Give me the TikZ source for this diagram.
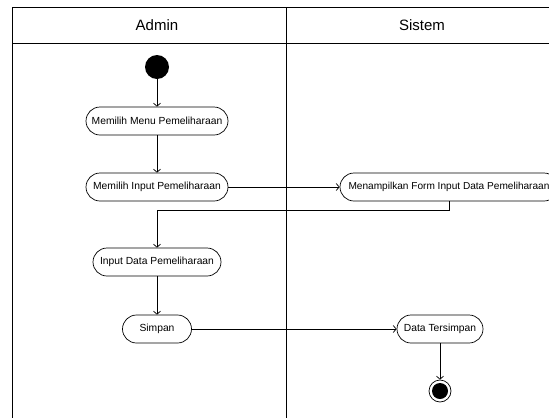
\documentclass[tikz,border=0pt]{standalone}
\usepackage{fontspec}
\setmainfont{Liberation Sans}
\usetikzlibrary{arrows.meta}
\begin{document}
\begin{tikzpicture}[x=1pt, y=-1pt, line width=0.7pt,
	act/.style={draw, rounded corners=14pt, minimum height=28pt, inner sep=2pt, font=\fontsize{10.3}{11}\selectfont},
	flow/.style={-{Straight Barb[length=3pt, width=7pt]}},
	lane/.style={font=\fontsize{15}{16}\selectfont}]
	\useasboundingbox (0,0) rectangle (549,418);
	% partisi
	\draw (549,7) -- (12,7) -- (12,418);
	\draw (12,43) -- (549,43);
	\draw (286,7) -- (286,418);
	\node [lane] (admin) at (157,25) {Admin};
	\node [lane] (sistem) at (422,25) {Sistem};
	% aktivitas
	\node [circle, fill, inner sep=0, minimum size=24pt] (start) at (157,67) {};
	\node [act, minimum width=142pt] (menu) at (157,121) {Memilih Menu Pemeliharaan};
	\node [act, minimum width=142pt] (pilih) at (157,187) {Memilih Input Pemeliharaan};
	\node [act, minimum width=218pt, font=\fontsize{10.1}{11}\selectfont] (form) at (449,187) {Menampilkan Form Input Data Pemeliharaan};
	\node [act, minimum width=128pt] (input) at (157,262) {Input Data Pemeliharaan};
	\node [act, minimum width=69pt] (simpan) at (157,329) {Simpan};
	\node [act, minimum width=86pt] (tersimpan) at (440,329) {Data Tersimpan};
	\node [circle, draw, inner sep=0, minimum size=22pt] (stop) at (440,391) {};
	\node [circle, fill, inner sep=0, minimum size=16pt] (stopdot) at (stop) {};
	% alur
	\draw [flow] (start) -- (menu);
	\draw [flow] (menu) -- (pilih);
	\draw [flow] (pilih) -- (form);
	\draw [flow] (form.south) -- ++(0,9) -| (input.north);
	\draw [flow] (input) -- (simpan);
	\draw [flow] (simpan) -- (tersimpan);
	\draw [flow] (tersimpan) -- (stop);
\end{tikzpicture}
\end{document}
